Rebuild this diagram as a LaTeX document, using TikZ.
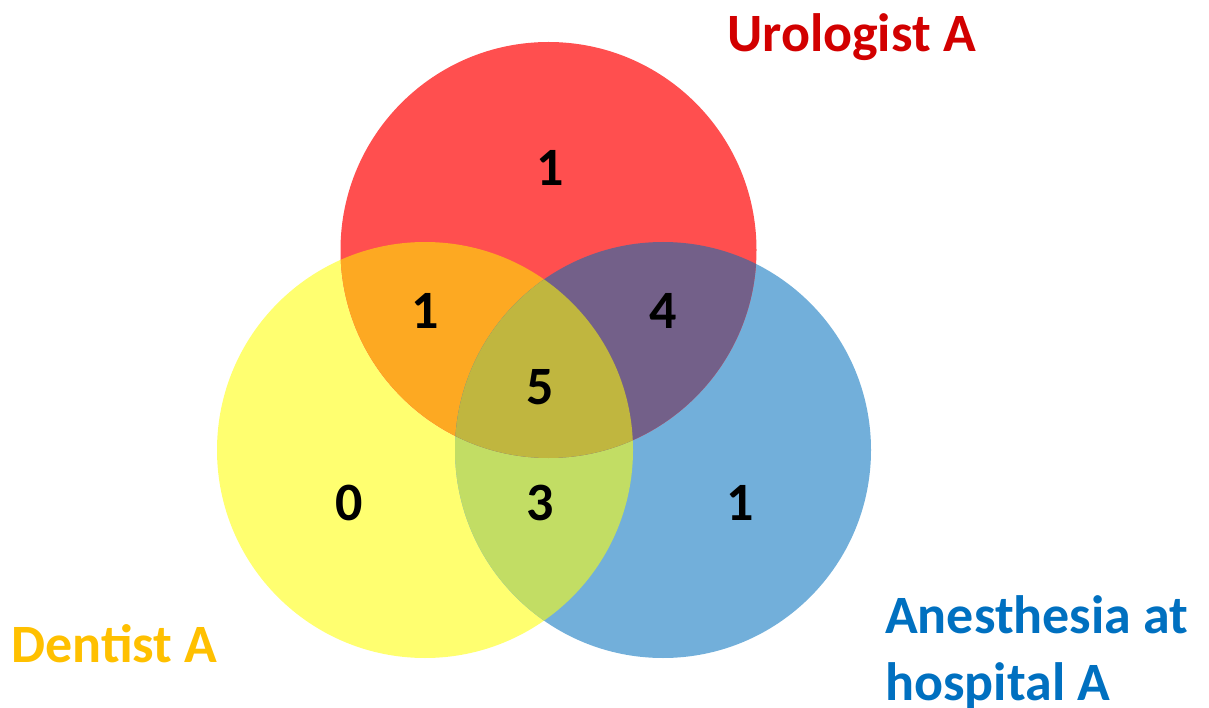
\documentclass[tikz,border=0pt]{standalone}
\usepackage{fontspec}
\setmainfont{Carlito}
\definecolor{cred}{HTML}{FF4F4F}
\definecolor{cyel}{HTML}{FFFF70}
\definecolor{cblu}{HTML}{72AFDA}
\definecolor{corg}{HTML}{FDA922}
\definecolor{cpur}{HTML}{736089}
\definecolor{cgrn}{HTML}{C2DD64}
\definecolor{cmid}{HTML}{C0B63F}
\definecolor{turo}{HTML}{D20000}
\definecolor{tden}{HTML}{FFC000}
\definecolor{tane}{HTML}{0070C0}
\tikzset{
  num/.style={font=\fontsize{54}{64}\selectfont\bfseries, text=black, inner sep=0pt},
  lbl/.style={font=\fontsize{54}{67}\selectfont\bfseries, inner sep=0pt}
}
\begin{document}
\begin{tikzpicture}[x=1pt,y=-1pt]
\useasboundingbox (0,0) rectangle (1209,708);
\coordinate (R) at (548.5,250);
\coordinate (Y) at (425,450);
\coordinate (B) at (663,450);
\def\rr{208pt}
% base circles
\fill[cyel] (Y) circle[radius=\rr];
\fill[cblu] (B) circle[radius=\rr];
\fill[cred] (R) circle[radius=\rr];
% overlaps
\begin{scope}
  \clip (Y) circle[radius=\rr];
  \fill[corg] (R) circle[radius=\rr];
  \fill[cgrn] (B) circle[radius=\rr];
\end{scope}
\begin{scope}
  \clip (B) circle[radius=\rr];
  \fill[cpur] (R) circle[radius=\rr];
\end{scope}
\begin{scope}
  \clip (Y) circle[radius=\rr];
  \clip (B) circle[radius=\rr];
  \fill[cmid] (R) circle[radius=\rr];
\end{scope}
% numbers
\node[num] (nR)  at (550,168) {1};
\node[num] (nRY) at (425,311) {1};
\node[num] (nRB) at (663,311) {4};
\node[num] (nC)  at (540,387) {5};
\node[num] (nY)  at (349,503) {0};
\node[num] (nYB) at (540,503) {3};
\node[num] (nB)  at (740,503) {1};
% labels
\node[lbl, text=turo, anchor=base] (luro) at (851.5,52) {Urologist A};
\node[lbl, text=tden, anchor=base] (lden) at (114.5,662) {Dentist A};
\node[lbl, text=tane, anchor=base west] (lane1) at (885,633) {Anesthesia at};
\node[lbl, text=tane, anchor=base west] (lane2) at (885,700) {hospital A};
\end{tikzpicture}
\end{document}
